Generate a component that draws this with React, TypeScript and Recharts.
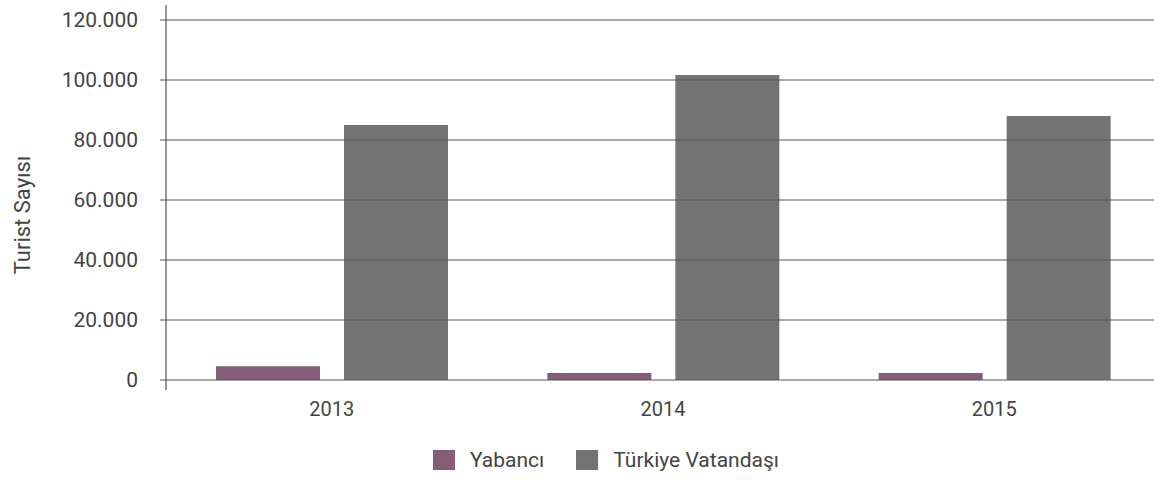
import React from 'react';
import { BarChart, Bar, XAxis, YAxis, ReferenceLine, Legend, Label } from 'recharts';

const years = ['2013', '2014', '2015'];
const yabanci = [4600, 2300, 2300];
const turkiye = [85000, 101700, 88000];
const yTicks = [0, 20000, 40000, 60000, 80000, 100000, 120000];
const seriesOrder = ['yabanci', 'turkiye'];

const data = years.map((year, i) => ({
  year,
  yabanci: yabanci[i],
  turkiye: turkiye[i],
}));

const COLORS = { yabanci: '#855d76', turkiye: '#747474' };
const TEXT = '#444444';
const FONT = 'Roboto, sans-serif';

const formatThousands = (v: number) =>
  v.toString().replace(/\B(?=(\d{3})+(?!\d))/g, '.');

const renderLegend = ({ payload }: any) => {
  const items = [...(payload || [])].sort(
    (a: any, b: any) => seriesOrder.indexOf(a.dataKey) - seriesOrder.indexOf(b.dataKey)
  );
  return (
    <div
      style={{
        display: 'flex',
        alignItems: 'center',
        paddingLeft: 433,
        paddingTop: 18,
        fontFamily: FONT,
        fontSize: 21,
        color: TEXT,
      }}
    >
      {items.map((entry: any) => (
        <div key={entry.value} style={{ display: 'flex', alignItems: 'center', marginRight: 32 }}>
          <span
            style={{
              display: 'inline-block',
              width: 22,
              height: 20,
              background: entry.color,
              marginRight: 15,
            }}
          />
          <span>{entry.value}</span>
        </div>
      ))}
    </div>
  );
};

const renderYLabel = () => (
  <text
    x={22}
    y={215}
    transform="rotate(-90 22 215)"
    textAnchor="middle"
    dominantBaseline="central"
    fill={TEXT}
    style={{ fontFamily: FONT, fontSize: 22 }}
  >
    Turist Sayısı
  </text>
);

export default function App() {
  return (
    <div style={{ position: 'fixed', left: 0, top: 0, width: 1154, height: 480, overflow: 'hidden', background: '#fff' }}>
      <BarChart
        width={1160}
        height={480}
        data={data}
        margin={{ top: 5, right: 0, bottom: 0, left: 0 }}
        barSize={104}
        barGap={24}
      >
        <XAxis
          dataKey="year"
          axisLine={false}
          tickLine={false}
          tickSize={0}
          tickMargin={12}
          height={40}
          tick={{ fill: TEXT, fontSize: 20, fontFamily: FONT }}
        />
        <YAxis
          width={166}
          domain={[0, 120000]}
          ticks={yTicks}
          interval={0}
          padding={{ top: 15, bottom: 10 }}
          tickFormatter={formatThousands}
          axisLine={{ stroke: '#333333' }}
          tickLine={{ stroke: '#555555' }}
          tickSize={6}
          tickMargin={22}
          tick={{ fill: TEXT, fontSize: 21, fontFamily: FONT }}
        >
          <Label content={renderYLabel} />
        </YAxis>
        {yTicks.map((t) => (
          <ReferenceLine key={t} y={t} stroke="#555555" />
        ))}
        <Legend verticalAlign="bottom" height={50} content={renderLegend} />
        <Bar dataKey="yabanci" name="Yabancı" fill={COLORS.yabanci} isAnimationActive={false} />
        <Bar dataKey="turkiye" name="Türkiye Vatandaşı" fill={COLORS.turkiye} isAnimationActive={false} />
      </BarChart>
    </div>
  );
}
